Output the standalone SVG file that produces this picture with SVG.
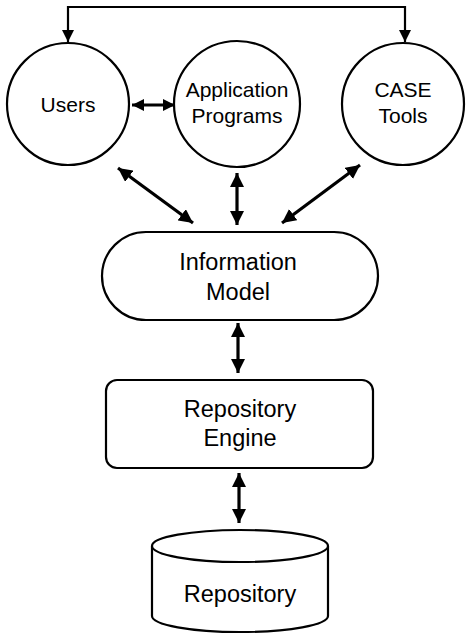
<svg xmlns="http://www.w3.org/2000/svg" width="466" height="634" viewBox="0 0 466 634">
<style>
.shape{fill:#fff;stroke:#000;stroke-width:2.2}
.lbl{font-family:"Liberation Sans",Arial,sans-serif;fill:#000;text-anchor:middle}
.s21{font-size:21px}
.s24{font-size:23.5px}
.conn{stroke:#000;stroke-width:3.2;fill:none}
.thin{stroke:#000;stroke-width:2.2;fill:none}
</style>
<defs>
<marker id="ah" markerUnits="userSpaceOnUse" markerWidth="16" markerHeight="14" refX="14" refY="7" orient="auto-start-reverse">
<path d="M0,0 L14,7 L0,14 Z" fill="#000"/>
</marker>
<marker id="ahs" markerUnits="userSpaceOnUse" markerWidth="14" markerHeight="12" refX="12" refY="6" orient="auto-start-reverse">
<path d="M0,0 L12,6 L0,12 Z" fill="#000"/>
</marker>
</defs>
<g id="connectors">
<path class="thin" d="M68,42 V7 H405 V42" marker-start="url(#ahs)" marker-end="url(#ahs)"/>
<line class="conn" x1="132" y1="105" x2="175" y2="105" marker-start="url(#ahs)" marker-end="url(#ahs)"/>
<line class="conn" x1="118" y1="168" x2="193" y2="223" marker-start="url(#ah)" marker-end="url(#ah)"/>
<line class="conn" x1="237" y1="173" x2="237" y2="225" marker-start="url(#ah)" marker-end="url(#ah)"/>
<line class="conn" x1="360" y1="165" x2="282" y2="223" marker-start="url(#ah)" marker-end="url(#ah)"/>
<line class="conn" x1="238" y1="323" x2="238" y2="373" marker-start="url(#ah)" marker-end="url(#ah)"/>
<line class="conn" x1="239" y1="473" x2="239" y2="523" marker-start="url(#ah)" marker-end="url(#ah)"/>
</g>
<g id="users">
<circle class="shape" cx="68" cy="104" r="61"/>
<text class="lbl s21" x="68" y="112">Users</text>
</g>
<g id="application-programs">
<circle class="shape" cx="237" cy="104" r="63"/>
<text class="lbl s21" x="237" y="97">Application</text>
<text class="lbl s21" x="237" y="123">Programs</text>
</g>
<g id="case-tools">
<circle class="shape" cx="403" cy="104" r="61"/>
<text class="lbl s21" x="403" y="97">CASE</text>
<text class="lbl s21" x="403" y="123">Tools</text>
</g>
<g id="information-model">
<rect class="shape" x="102" y="232" width="276" height="88" rx="44" ry="44"/>
<text class="lbl s24" x="238" y="270">Information</text>
<text class="lbl s24" x="238" y="300">Model</text>
</g>
<g id="repository-engine">
<rect class="shape" x="106" y="380" width="267" height="88" rx="11" ry="11"/>
<text class="lbl s24" x="240" y="417">Repository</text>
<text class="lbl s24" x="240" y="446">Engine</text>
</g>
<g id="repository">
<path class="shape" d="M152,546 V616 A88,16 0 0 0 328,616 V546"/>
<ellipse class="shape" cx="240" cy="546" rx="88" ry="16"/>
<text class="lbl s24" x="240" y="602">Repository</text>
</g>
</svg>
